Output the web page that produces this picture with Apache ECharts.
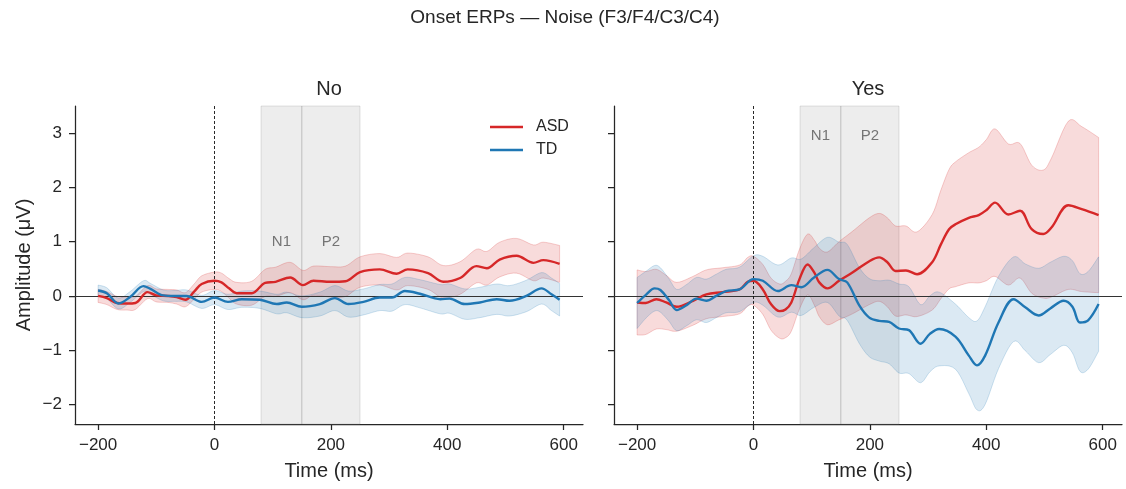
<!DOCTYPE html>
<html>
<head>
<meta charset="utf-8">
<script src="https://cdn.jsdelivr.net/npm/echarts@6/dist/echarts.min.js"></script>
<style>
html,body{margin:0;padding:0;background:#fff;}
#chart{width:1126px;height:489px;}
</style>
</head>
<body>
<div id="chart"></div>
<script>
// ---------------- DATA ----------------
const TITLE = 'Onset ERPs — Noise (F3/F4/C3/C4)';
const panelTitles = ['No', 'Yes'];
const seriesNames = ['ASD', 'TD'];
const xTicks = [-200, 0, 200, 400, 600];
const yTicks = [-2, -1, 0, 1, 2, 3];
const windowN1 = [80, 150];
const windowP2 = [150, 250];
const compLabels = ['N1', 'P2'];
const compLabelX = [115, 200];
const compLabelY = [1.0, 2.95]; // per panel (No, Yes)

// Panel "No" — ASD
const noAsdT = [-200,-185,-167,-150,-136,-115,-100,-80,-65,-50,-35,-22,0,12,25,38,64,87,105,130,152,170,199,225,250,284,313,332,367,393,422,450,468,490,519,548,565,593];
const noAsdMean = [0.00,-0.04,-0.13,-0.14,-0.13,0.07,0.01,0.00,-0.02,-0.07,0.08,0.22,0.28,0.25,0.14,0.05,0.05,0.24,0.26,0.34,0.20,0.28,0.26,0.27,0.44,0.49,0.41,0.49,0.42,0.26,0.33,0.55,0.51,0.67,0.74,0.61,0.66,0.59];
const noAsdHalf = [0.12,0.12,0.12,0.12,0.12,0.12,0.12,0.12,0.13,0.13,0.14,0.15,0.16,0.17,0.18,0.2,0.22,0.25,0.27,0.28,0.27,0.27,0.28,0.28,0.28,0.29,0.3,0.3,0.3,0.3,0.3,0.31,0.31,0.32,0.32,0.33,0.33,0.34];

// Panel "No" — TD
const noTdT = [-200,-185,-165,-145,-122,-110,-88,-68,-48,-22,0,23,47,78,107,124,150,181,207,230,256,284,305,327,353,388,404,430,456,485,507,536,562,579,593];
const noTdMean = [0.10,0.05,-0.14,-0.02,0.18,0.13,0.01,0.00,0.00,-0.11,-0.03,-0.11,-0.06,-0.07,-0.15,-0.12,-0.20,-0.15,-0.04,-0.15,-0.11,-0.03,-0.03,0.09,0.04,-0.06,-0.05,-0.15,-0.12,-0.06,-0.09,0.00,0.14,0.03,-0.07];
const noTdHalf = [0.1,0.1,0.1,0.1,0.1,0.1,0.1,0.1,0.11,0.12,0.13,0.14,0.15,0.16,0.18,0.19,0.2,0.22,0.23,0.24,0.24,0.24,0.25,0.25,0.26,0.27,0.27,0.28,0.28,0.28,0.28,0.29,0.29,0.3,0.3];

// Panel "Yes" — ASD
const yesAsdT = [-200,-185,-167,-150,-132,-104,-81,-53,-24,-10,0,16,30,45,55,65,79,93,105,113,127,147,170,199,216,230,244,262,281,307,322,336,347,370,387,400,415,438,458,478,498,512,541,564,593];
const yesAsdMean = [-0.12,-0.13,-0.06,-0.12,-0.20,-0.09,0.03,0.07,0.12,0.26,0.28,0.12,-0.15,-0.28,-0.25,-0.12,0.31,0.58,0.42,0.25,0.14,0.28,0.43,0.64,0.71,0.62,0.46,0.47,0.40,0.62,0.95,1.23,1.32,1.44,1.49,1.58,1.72,1.50,1.57,1.23,1.14,1.26,1.67,1.60,1.49];
const yesAsdHalf = [0.6,0.58,0.55,0.5,0.45,0.45,0.45,0.45,0.45,0.45,0.45,0.46,0.48,0.5,0.52,0.53,0.55,0.56,0.6,0.63,0.67,0.72,0.76,0.8,0.81,0.82,0.83,0.82,0.78,0.88,1.0,1.1,1.15,1.2,1.25,1.3,1.36,1.3,1.24,1.18,1.18,1.28,1.55,1.52,1.43];

// Panel "Yes" — TD
const yesTdT = [-200,-184,-170,-160,-145,-132,-115,-98,-81,-64,-47,-24,0,16,42,65,82,104,127,147,161,182,199,216,233,250,267,287,303,319,347,370,384,398,421,447,467,490,510,533,548,561,575,593];
const yesTdMean = [-0.13,0.03,0.14,0.11,-0.08,-0.26,-0.17,-0.05,-0.09,0.00,0.09,0.12,0.31,0.28,0.09,0.20,0.16,0.34,0.48,0.31,0.25,-0.18,-0.40,-0.46,-0.48,-0.60,-0.63,-0.88,-0.70,-0.61,-0.75,-1.10,-1.28,-1.10,-0.49,-0.06,-0.21,-0.36,-0.23,-0.09,-0.20,-0.49,-0.45,-0.15];
const yesTdHalf = [0.47,0.43,0.42,0.41,0.39,0.38,0.38,0.39,0.4,0.4,0.4,0.41,0.43,0.45,0.48,0.5,0.52,0.55,0.6,0.68,0.7,0.7,0.72,0.74,0.77,0.82,0.8,0.72,0.7,0.68,0.6,0.7,0.82,0.9,0.85,0.78,0.8,0.87,0.85,0.82,0.85,0.9,0.9,0.87];

// ---------------- STYLE ----------------
const FONT = '"Liberation Sans", Arial, sans-serif';
const INK = '#262626';
const RED = '#d62728';
const BLUE = '#1f77b4';
const RED_FILL = 'rgba(214,39,40,0.17)';
const BLUE_FILL = 'rgba(31,119,180,0.16)';
const RED_EDGE = 'rgba(214,39,40,0.22)';
const BLUE_EDGE = 'rgba(31,119,180,0.2)';

const chart = echarts.init(document.getElementById('chart'), null, {renderer: 'canvas'});

function catmull(pts, n) {
  const out = [];
  const N = pts.length;
  for (let i = 0; i < N - 1; i++) {
    const p0 = pts[Math.max(i - 1, 0)], p1 = pts[i], p2 = pts[i + 1], p3 = pts[Math.min(i + 2, N - 1)];
    for (let s = 0; s < n; s++) {
      const t = s / n, t2 = t * t, t3 = t2 * t;
      const f = (a, b, c, d) => 0.5 * ((2 * b) + (-a + c) * t + (2 * a - 5 * b + 4 * c - d) * t2 + (-a + 3 * b - 3 * c + d) * t3);
      out.push([f(p0[0], p1[0], p2[0], p3[0]), f(p0[1], p1[1], p2[1], p3[1])]);
    }
  }
  out.push(pts[N - 1]);
  return out;
}

function band(gi, t, m, h, fill, edge) {
  return {
    type: 'custom', xAxisIndex: gi, yAxisIndex: gi, silent: true, z: 3,
    data: [[t[0], m[0]]],
    renderItem: function (params, api) {
      const up = t.map((x, i) => api.coord([x, m[i] + h[i]]));
      const lo = t.map((x, i) => api.coord([x, m[i] - h[i]]));
      const pts = catmull(up, 6).concat(catmull(lo, 6).reverse());
      return {type: 'polygon', shape: {points: pts}, style: {fill: fill, stroke: edge, lineWidth: 1}};
    }
  };
}

function meanLine(gi, name, t, m, color) {
  return {
    type: 'line', name: name, xAxisIndex: gi, yAxisIndex: gi, z: 8,
    data: t.map((x, i) => [x, m[i]]),
    smooth: 0.35, showSymbol: false, symbol: 'none',
    lineStyle: {color: color, width: 2.4}, itemStyle: {color: color},
    emphasis: {disabled: true}
  };
}

function helper(gi) {
  return {
    type: 'line', xAxisIndex: gi, yAxisIndex: gi, z: 2, silent: true,
    data: [[xTicks[0], 0]], symbol: 'none', lineStyle: {opacity: 0},
    markArea: {
      silent: true, z: 1,
      itemStyle: {color: 'rgba(128,128,128,0.14)', borderColor: 'rgba(150,150,150,0.28)', borderWidth: 1},
      data: [[{xAxis: windowN1[0]}, {xAxis: windowN1[1]}], [{xAxis: windowP2[0]}, {xAxis: windowP2[1]}]]
    },
    markLine: {
      silent: true, symbol: 'none', z: 5, label: {show: false},
      data: [
        {yAxis: 0, lineStyle: {color: '#333', width: 1, type: 'solid'}},
        {xAxis: 0, lineStyle: {color: '#111', width: 0.9, type: [3, 2]}}
      ]
    }
  };
}

function compText(gi) {
  return {
    type: 'scatter', xAxisIndex: gi, yAxisIndex: gi, z: 4, silent: true,
    symbolSize: 0,
    data: compLabels.map((lab, i) => ({value: [compLabelX[i], compLabelY[gi]], name: lab})),
    label: {show: true, position: 'inside', formatter: p => p.name, color: '#555', fontSize: 15, fontFamily: FONT}
  };
}

const minus = v => String(v).replace('-', '\u2212');

function xAxisDef(gi) {
  return {
    type: 'value', gridIndex: gi, min: -239.7, max: 633.2,
    name: 'Time (ms)', nameLocation: 'middle', nameGap: 37,
    nameTextStyle: {fontSize: 20, color: INK, fontFamily: FONT},
    axisLine: {show: true, onZero: false, lineStyle: {color: INK, width: 1.25}},
    axisTick: {show: true, length: 6, lineStyle: {color: INK, width: 1.25}, customValues: xTicks},
    axisLabel: {show: true, fontSize: 17, color: INK, fontFamily: FONT, margin: 13, customValues: xTicks, formatter: minus},
    splitLine: {show: false}
  };
}
function yAxisDef(gi) {
  return {
    type: 'value', gridIndex: gi, min: -2.36, max: 3.5,
    name: gi === 0 ? 'Amplitude (μV)' : '', nameLocation: 'middle', nameGap: 41,
    nameTextStyle: {fontSize: 20, color: INK, fontFamily: FONT},
    axisLine: {show: true, onZero: false, lineStyle: {color: INK, width: 1.25}},
    axisTick: {show: true, length: 6, lineStyle: {color: INK, width: 1.25}, customValues: yTicks},
    axisLabel: {show: gi === 0, fontSize: 17, color: INK, fontFamily: FONT, margin: 13, customValues: yTicks, formatter: minus},
    splitLine: {show: false}
  };
}

const option = {
  animation: false,
  backgroundColor: '#ffffff',
  textStyle: {fontFamily: FONT},
  grid: [
    {left: 75, top: 106, width: 508, height: 318},
    {left: 614, top: 106, width: 508, height: 318}
  ],
  xAxis: [xAxisDef(0), xAxisDef(1)],
  yAxis: [yAxisDef(0), yAxisDef(1)],
  legend: {
    data: seriesNames.map(n => ({name: n, icon: 'rect'})),
    orient: 'vertical', left: 490, top: 119, padding: 0,
    itemWidth: 33, itemHeight: 2.5, itemGap: 7,
    textStyle: {fontSize: 16, color: INK, fontFamily: FONT, padding: [0, 0, 0, 8]},
    selectedMode: false
  },
  graphic: [
    {type: 'text', x: 565, y: 18, silent: true, style: {text: TITLE, fontSize: 19, fontFamily: FONT, fill: INK, align: 'center', verticalAlign: 'middle'}},
    {type: 'text', x: 329, y: 89, silent: true, style: {text: panelTitles[0], fontSize: 20, fontFamily: FONT, fill: INK, align: 'center', verticalAlign: 'middle'}},
    {type: 'text', x: 868, y: 89, silent: true, style: {text: panelTitles[1], fontSize: 20, fontFamily: FONT, fill: INK, align: 'center', verticalAlign: 'middle'}}
  ],
  series: [
    helper(0), helper(1),
    band(0, noAsdT, noAsdMean, noAsdHalf, RED_FILL, RED_EDGE),
    band(0, noTdT, noTdMean, noTdHalf, BLUE_FILL, BLUE_EDGE),
    band(1, yesAsdT, yesAsdMean, yesAsdHalf, RED_FILL, RED_EDGE),
    band(1, yesTdT, yesTdMean, yesTdHalf, BLUE_FILL, BLUE_EDGE),
    compText(0), compText(1),
    meanLine(0, seriesNames[0], noAsdT, noAsdMean, RED),
    meanLine(0, seriesNames[1], noTdT, noTdMean, BLUE),
    meanLine(1, seriesNames[0], yesAsdT, yesAsdMean, RED),
    meanLine(1, seriesNames[1], yesTdT, yesTdMean, BLUE)
  ]
};
chart.setOption(option);
</script>
</body>
</html>
